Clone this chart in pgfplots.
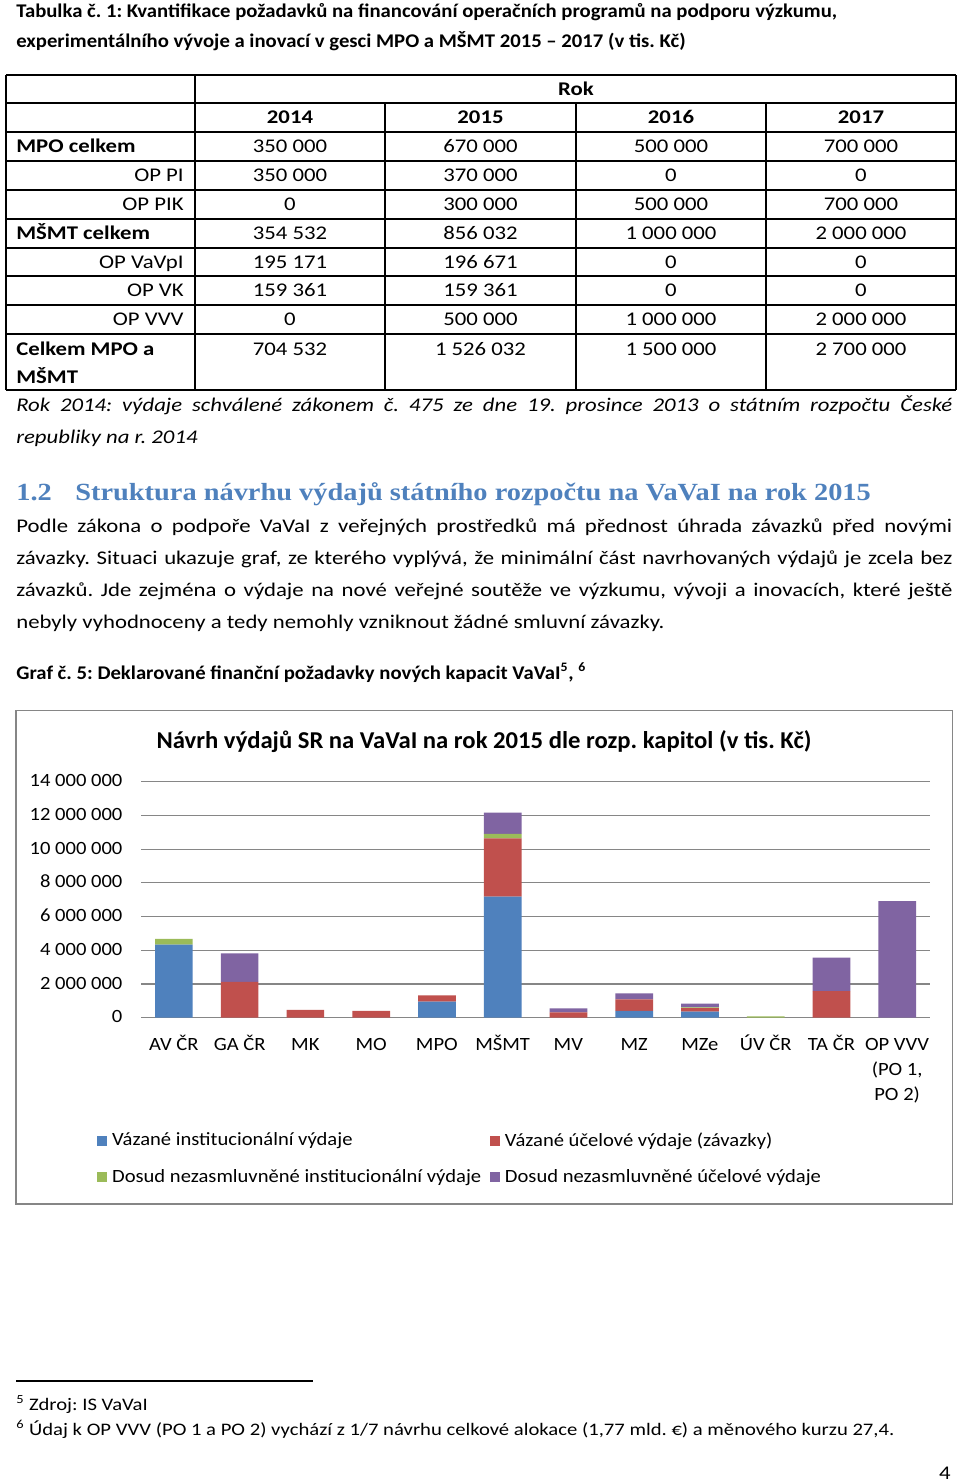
\documentclass[border=0pt]{standalone}
\usepackage{fontspec}
\setmainfont{Carlito}[FakeStretch=1.175]
\newfontfamily\capfont{Carlito}[FakeStretch=1.07]
\newfontfamily\chartfont{Carlito}[FakeStretch=1.1]
\newfontfamily\charttitle{Carlito}[FakeStretch=1.02]
\newfontfamily\headfont{Liberation Serif}[FakeStretch=1.15]
\usepackage{pgfplots}
\usepackage{pgfplotstable}
\pgfplotsset{compat=1.18}
\definecolor{cBlue}{RGB}{79,129,189}
\definecolor{cRed}{RGB}{192,80,77}
\definecolor{cGreen}{RGB}{155,187,89}
\definecolor{cPurple}{RGB}{128,100,162}
\definecolor{cGrid}{RGB}{134,134,134}
\definecolor{cHead}{RGB}{79,129,189}
\newcommand\body{\fontsize{12}{19.84}\selectfont}
\newcommand\cf{\chartfont\fontsize{11.6}{15.5}\selectfont}

% values in thousands of CZK
\pgfplotstableread{
x blue red green purple
0 4330000 0 340000 0
1 0 2130000 0 1690000
2 0 460000 0 0
3 0 400000 0 0
4 950000 380000 0 0
5 7180000 3460000 260000 1260000
6 0 320000 0 240000
7 400000 690000 0 360000
8 360000 210000 50000 210000
9 0 0 80000 0
10 0 1580000 0 1980000
11 0 0 0 6920000
}\chartdata

\begin{document}
\frenchspacing
\hyphenpenalty=10000
\begin{tikzpicture}
\begin{scope}[x=0.62pt,y=-0.62pt]
\fill[white] (0,0) rectangle (960,1484);

% table title
\node[anchor=base west,inner sep=0] at (16,17) {\capfont\body\bfseries Tabulka č. 1: Kvantifikace požadavků na financování operačních programů na podporu výzkumu,};
\node[anchor=base west,inner sep=0] at (16,47) {\capfont\body\bfseries experimentálního vývoje a inovací v gesci MPO a MŠMT 2015 – 2017 (v tis. Kč)};

% table grid
\foreach \yy in {75,103,132,161,190,219,248,276,305,334,390}
  \draw[line width=0.8pt] (6,\yy) -- (956,\yy);
\foreach \xx in {6,195,956}
  \draw[line width=0.8pt] (\xx,75) -- (\xx,390);
\foreach \xx in {385,576,766}
  \draw[line width=0.8pt] (\xx,103) -- (\xx,390);

\node[anchor=base,inner sep=0] at (576,95) {\body\bfseries Rok};
\foreach \xx/\t in {290/2014,480.5/2015,671/2016,861/2017}
  \node[anchor=base,inner sep=0] at (\xx,123.5) {\body\bfseries \t};

\node[anchor=base west,inner sep=0] at (16,152.5) {\body\bfseries MPO celkem};
\node[anchor=base west,inner sep=0] at (16,239.5) {\body\bfseries MŠMT celkem};
\node[anchor=base west,inner sep=0] at (16,355) {\body\bfseries Celkem MPO a};
\node[anchor=base west,inner sep=0] at (16,383) {\body\bfseries MŠMT};
\foreach \yy/\t in {181.5/OP PI,210.5/OP PIK,268/OP VaVpI,296.5/OP VK,325.5/OP VVV}
  \node[anchor=base east,inner sep=0] at (184,\yy) {\body \t};

\foreach \yy/\a/\b/\c/\d in {
  152.5/350 000/670 000/500 000/700 000,
  181.5/350 000/370 000/0/0,
  210.5/0/300 000/500 000/700 000,
  239.5/354 532/856 032/1 000 000/2 000 000,
  268/195 171/196 671/0/0,
  296.5/159 361/159 361/0/0,
  325.5/0/500 000/1 000 000/2 000 000,
  355/704 532/1 526 032/1 500 000/2 700 000}{
  \node[anchor=base,inner sep=0] at (290,\yy) {\body \a};
  \node[anchor=base,inner sep=0] at (480.5,\yy) {\body \b};
  \node[anchor=base,inner sep=0] at (671,\yy) {\body \c};
  \node[anchor=base,inner sep=0] at (861,\yy) {\body \d};
}

% note under table
\node[anchor=base west,inner sep=0] at (16,411) {\parbox[t]{580.3pt}{\body\itshape
Rok 2014: výdaje schválené zákonem č. 475 ze dne 19. prosince 2013 o státním rozpočtu České\linebreak
republiky na r. 2014}};

% heading
\node[anchor=base west,inner sep=0,text=cHead] at (16,500) {\headfont\fontsize{15.3}{18}\selectfont\bfseries 1.2};
\node[anchor=base west,inner sep=0,text=cHead] at (75,500) {\headfont\fontsize{15.3}{18}\selectfont\bfseries Struktura návrhu výdajů státního rozpočtu na VaVaI na rok 2015};

% paragraph
\node[anchor=base west,inner sep=0] at (16,532) {\parbox[t]{580.3pt}{\body
Podle zákona o podpoře VaVaI z~veřejných prostředků má přednost úhrada závazků před novými\linebreak
závazky. Situaci ukazuje graf, ze kterého vyplývá, že minimální část navrhovaných výdajů je zcela bez\linebreak
závazků. Jde zejména o výdaje na nové veřejné soutěže ve výzkumu, vývoji a inovacích, které ještě\linebreak
nebyly vyhodnoceny a tedy nemohly vzniknout žádné smluvní závazky.}};

\node[anchor=base west,inner sep=0] at (16,679) {\capfont\body\bfseries Graf č. 5: Deklarované finanční požadavky nových kapacit VaVaI\textsuperscript{5}, \textsuperscript{6}};

% chart frame
\draw[cGrid,line width=0.8pt] (16,710.3) rectangle (952.7,1204);
\node[anchor=base,inner sep=0] at (484,748) {\charttitle\fontsize{15}{18}\selectfont\bfseries Návrh výdajů SR na VaVaI na rok 2015 dle rozp. kapitol (v tis. Kč)};

% footnotes
\draw[line width=0.7pt] (16,1381) -- (313,1381);
\node[anchor=base west,inner sep=0] at (16,1410) {\fontsize{10.9}{13}\selectfont\textsuperscript{5} Zdroj: IS VaVaI};
\node[anchor=base west,inner sep=0] at (16,1435) {\fontsize{10.9}{13}\selectfont\textsuperscript{6} Údaj k OP VVV (PO 1 a PO 2) vychází z 1/7 návrhu celkové alokace (1,77 mld. €) a měnového kurzu 27,4.};
\node[anchor=base,inner sep=0] at (945,1479) {\body 4};
\end{scope}

\begin{axis}[
  at={(87.42pt,-630.97pt)}, anchor=south west,
  scale only axis, width=489.18pt, height=146.32pt,
  ybar stacked, bar width=23.4pt,
  xmin=-0.5, xmax=11.5, ymin=0, ymax=14000000,
  scaled y ticks=false,
  axis line style={draw=none},
  major tick length=0pt,
  ymajorgrids, grid style={cGrid,line width=0.7pt},
  xtick=data,
  xticklabels={AV ČR,GA ČR,MK,MO,MPO,MŠMT,MV,MZ,MZe,ÚV ČR,TA ČR,{OP VVV\\(PO 1,\\PO 2)}},
  typeset ticklabels with strut,
  xticklabel style={font=\cf, align=center, anchor=north, yshift=-6pt},
  ytick={0,2000000,4000000,6000000,8000000,10000000,12000000,14000000},
  yticklabels={0,2 000 000,4 000 000,6 000 000,8 000 000,10 000 000,12 000 000,14 000 000},
  yticklabel style={font=\cf, anchor=east, xshift=-8pt},
  legend columns=2,
  legend cell align=left,
  legend style={draw=none, fill=none, inner sep=0pt, font=\cf,
    at={(-0.0558,-0.4716)}, anchor=north west, row sep=9pt,
    /tikz/every odd column/.append style={column sep=1pt},
    /tikz/every even column/.append style={column sep=3.5pt}},
  legend image code/.code={\fill[#1] (0pt,-3.1pt) rectangle (6.2pt,3.1pt);},
]
\addplot[fill=cBlue, draw=none] table[x=x, y=blue] {\chartdata};
\addlegendentry{Vázané institucionální výdaje}
\addplot[fill=cRed, draw=none] table[x=x, y=red] {\chartdata};
\addlegendentry{Vázané účelové výdaje (závazky)}
\addplot[fill=cGreen, draw=none] table[x=x, y=green] {\chartdata};
\addlegendentry{Dosud nezasmluvněné institucionální výdaje}
\addplot[fill=cPurple, draw=none] table[x=x, y=purple] {\chartdata};
\addlegendentry{Dosud nezasmluvněné účelové výdaje}
\end{axis}
\end{tikzpicture}
\end{document}
